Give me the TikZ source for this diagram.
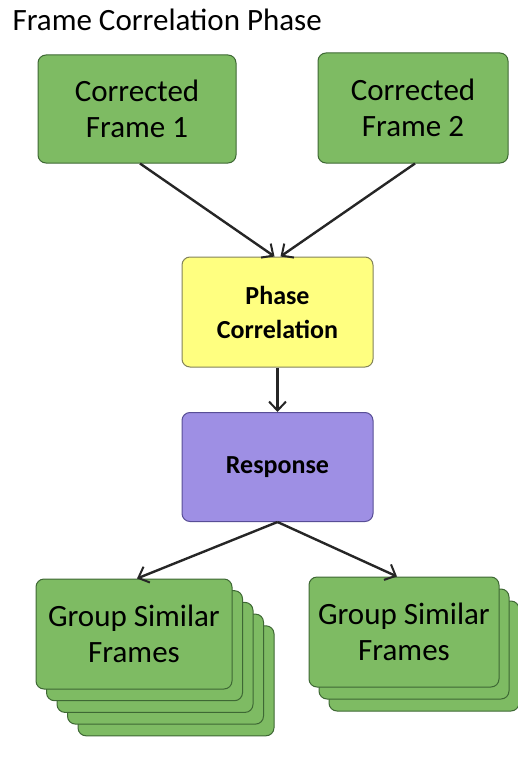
\documentclass[tikz,border=0pt]{standalone}
\usepackage{fontspec}
\setmainfont{Carlito}
\usepackage{tikz}
\usetikzlibrary{arrows.meta,calc,positioning}
\usepackage{xcolor}
\definecolor{boxgreen}{RGB}{126,187,99}
\definecolor{edgegreen}{RGB}{62,104,52}
\definecolor{boxyellow}{RGB}{255,255,128}
\definecolor{edgeyellow}{RGB}{130,130,90}
\definecolor{boxpurple}{RGB}{158,143,228}
\definecolor{edgepurple}{RGB}{88,78,150}

\begin{document}
\begin{tikzpicture}[
    x=1pt,y=-1pt,
    blk/.style={rectangle,rounded corners=8pt,line width=1pt,align=center,inner sep=0pt},
    grn/.style={blk,fill=boxgreen,draw=edgegreen,font=\fontsize{31}{36}\selectfont},
    ylw/.style={blk,fill=boxyellow,draw=edgeyellow,font=\bfseries\fontsize{26}{34}\selectfont},
    prp/.style={blk,fill=boxpurple,draw=edgepurple,font=\bfseries\fontsize{26}{34}\selectfont},
    arr/.style={-{Straight Barb[length=9pt,width=17pt,line width=2pt]},line width=2.4pt,black!85}
  ]
    \useasboundingbox (0,0) rectangle (518,757);
    \node[anchor=base west,font=\fontsize{31}{36}\selectfont] (title) at (9,31) {Frame Correlation Phase};
    \node[grn,minimum width=198pt,minimum height=108pt] (cf1) at (137,109) {Corrected\\Frame 1};
    \node[grn,minimum width=190pt,minimum height=110pt] (cf2) at (413,108) {Corrected\\Frame 2};
    \node[ylw,minimum width=191pt,minimum height=110pt] (phase) at (277.5,312) {Phase\\Correlation};
    \node[prp,minimum width=191pt,minimum height=109pt] (resp) at (277.5,467) {Response};
    % stacked groups, back to front
    \foreach \k in {4,3,2,1} {\node[grn,minimum width=196pt,minimum height=110pt] (ga\k) at ({134+10.5*\k},{634+11.7*\k}) {};}
    \node[grn,minimum width=196pt,minimum height=110pt] (ga) at (134,634) {Group Similar\\Frames};
    \foreach \k in {2,1} {\node[grn,minimum width=190pt,minimum height=110pt] (gb\k) at ({404+10*\k},{632+12*\k}) {};}
    \node[grn,minimum width=190pt,minimum height=110pt] (gb) at (404,632) {Group Similar\\Frames};
    \draw[arr] ([xshift=3pt]cf1.south) -- ([xshift=-3pt]phase.north);
    \draw[arr] ([xshift=2pt]cf2.south) -- ([xshift=3pt]phase.north);
    \draw[arr] (phase) -- (resp);
    \draw[arr] (resp.south) -- ([xshift=3pt]ga.north);
    \draw[arr] (resp.south) -- ([xshift=-7pt]gb.north);
  \end{tikzpicture}
\end{document}
